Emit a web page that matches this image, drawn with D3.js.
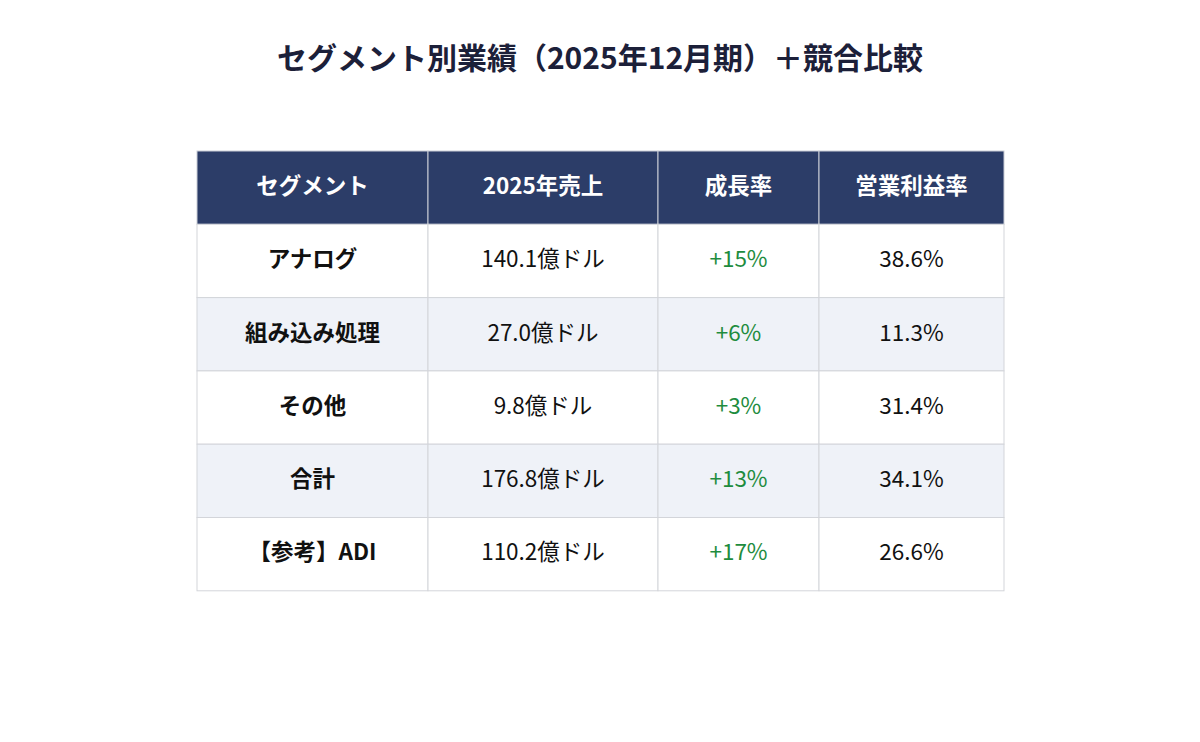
<!DOCTYPE html>
<html>
<head>
<meta charset="utf-8">
<script src="https://cdn.jsdelivr.net/npm/d3@7"></script>
<style>
  body { margin: 0; background: #fff; }
  svg { font-family: "Noto Sans CJK JP", "Noto Sans", sans-serif; }
</style>
</head>
<body>
<svg id="chart" width="1200" height="742"></svg>
<script>
// data
const headers = ["セグメント", "2025年売上", "成長率", "営業利益率"];
const segments = ["アナログ", "組み込み処理", "その他", "合計", "【参考】ADI"];
const revenue = ["140.1億ドル", "27.0億ドル", "9.8億ドル", "176.8億ドル", "110.2億ドル"];
const growth = ["+15%", "+6%", "+3%", "+13%", "+17%"];
const margin = ["38.6%", "11.3%", "31.4%", "34.1%", "26.6%"];

// layout
const tableLeft = 197, tableTop = 151, rowH = 73.3;
const colWidths = [231, 230, 161, 185];
const colEdges = [0];
colWidths.forEach(w => colEdges.push(colEdges[colEdges.length - 1] + w));

const svg = d3.select("#chart");

svg.append("text")
    .attr("x", 600)
    .attr("y", 58)
    .attr("dy", "0.35em")
    .attr("text-anchor", "middle")
    .style("font-size", "30px")
    .style("font-weight", "bold")
    .style("fill", "#1c2039")
    .text("セグメント別業績（2025年12月期）＋競合比較");

const x = d3.scaleOrdinal().domain(d3.range(5)).range(colEdges.map(e => tableLeft + e));
const y = d3.scaleBand()
    .domain(d3.range(segments.length + 1))
    .range([tableTop, tableTop + rowH * (segments.length + 1)]);

const rows = segments.map((s, i) => [s, revenue[i], growth[i], margin[i]]);

const g = svg.append("g");

// header
headers.forEach((h, c) => {
    g.append("rect")
        .attr("x", x(c)).attr("y", y(0))
        .attr("width", colWidths[c]).attr("height", y.bandwidth())
        .attr("fill", "#2c3d68")
        .attr("stroke", "#c9cdd6").attr("stroke-width", 1);
    g.append("text")
        .attr("x", x(c) + colWidths[c] / 2)
        .attr("y", y(0) + y.bandwidth() / 2)
        .attr("dy", "0.28em")
        .attr("text-anchor", "middle")
        .style("font-size", "22.5px")
        .style("font-weight", "bold")
        .style("fill", "#fff")
        .text(h);
});

// body
rows.forEach((r, i) => {
    r.forEach((v, c) => {
        g.append("rect")
            .attr("x", x(c)).attr("y", y(i + 1))
            .attr("width", colWidths[c]).attr("height", y.bandwidth())
            .attr("fill", i % 2 === 1 ? "#eff2f8" : "#fff")
            .attr("stroke", "#d3d5da").attr("stroke-width", 1);
        g.append("text")
            .attr("x", x(c) + colWidths[c] / 2)
            .attr("y", y(i + 1) + y.bandwidth() / 2)
            .attr("dy", "0.28em")
            .attr("text-anchor", "middle")
            .style("font-size", "22.5px")
            .style("font-weight", c === 0 ? "bold" : "normal")
            .style("fill", c === 2 ? "#1e8c3e" : "#111")
            .text(v);
    });
});
</script>
</body>
</html>
